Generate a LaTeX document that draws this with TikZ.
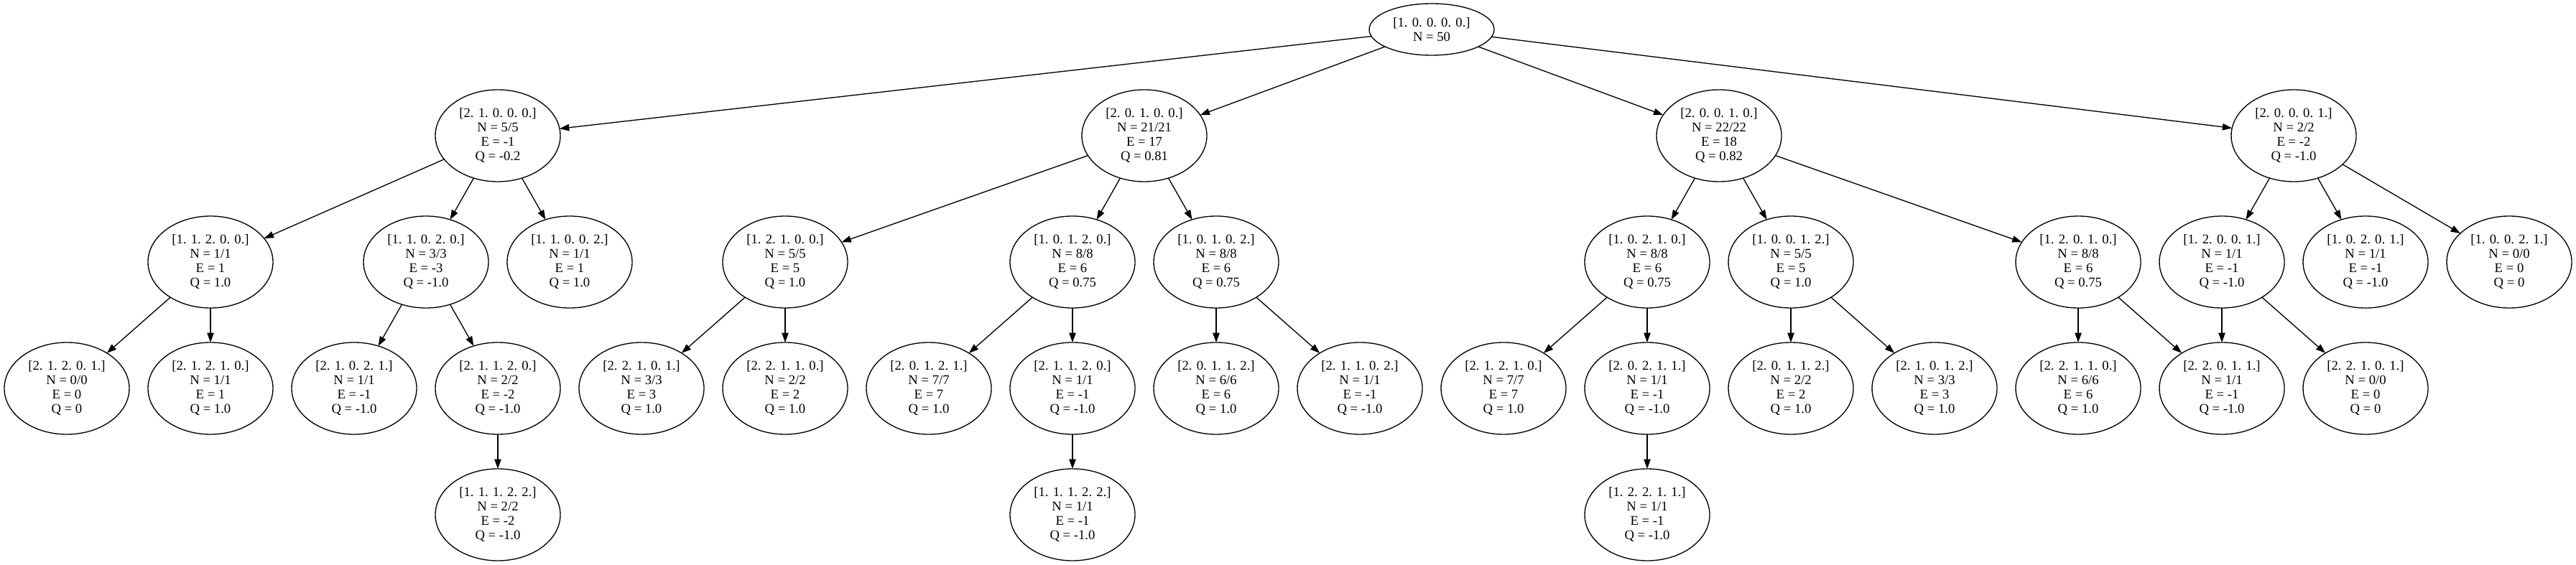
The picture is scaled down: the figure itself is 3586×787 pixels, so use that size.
\documentclass[tikz,border=0pt]{standalone}
\usepackage{fontspec}
\setmainfont{Liberation Serif}
\usetikzlibrary{shapes.geometric,arrows.meta}
\newcommand\mylab[4]{#1\\N = #2\\E = #3\\Q = #4}
\begin{document}
\begin{tikzpicture}[x=0.75pt,y=-0.75pt,
  st/.style={ellipse,draw,line width=1pt,minimum width=130.5pt,minimum height=96pt,inner sep=0pt,outer sep=0pt,align=center,font=\fontsize{14pt}{15pt}\selectfont},
  rootst/.style={st,minimum height=54pt},
  edge/.style={-{Triangle[length=10pt,width=7pt]},line width=1pt}]
\useasboundingbox (0,0) rectangle (3586,787);
% root
\node[rootst] (r) at (1993,41) {[1. 0. 0. 0. 0.]\\N = 50};
% level 1
\node[st] (a) at (693,189) {\mylab{[2. 1. 0. 0. 0.]}{5/5}{-1}{-0.2}};
\node[st] (b) at (1593,189) {\mylab{[2. 0. 1. 0. 0.]}{21/21}{17}{0.81}};
\node[st] (c) at (2393,189) {\mylab{[2. 0. 0. 1. 0.]}{22/22}{18}{0.82}};
\node[st] (d) at (3193,189) {\mylab{[2. 0. 0. 0. 1.]}{2/2}{-2}{-1.0}};
% level 2
\node[st] (a1) at (293,365) {\mylab{[1. 1. 2. 0. 0.]}{1/1}{1}{1.0}};
\node[st] (a2) at (593,365) {\mylab{[1. 1. 0. 2. 0.]}{3/3}{-3}{-1.0}};
\node[st] (a3) at (793,365) {\mylab{[1. 1. 0. 0. 2.]}{1/1}{1}{1.0}};
\node[st] (b1) at (1093,365) {\mylab{[1. 2. 1. 0. 0.]}{5/5}{5}{1.0}};
\node[st] (b2) at (1493,365) {\mylab{[1. 0. 1. 2. 0.]}{8/8}{6}{0.75}};
\node[st] (b3) at (1693,365) {\mylab{[1. 0. 1. 0. 2.]}{8/8}{6}{0.75}};
\node[st] (c1) at (2293,365) {\mylab{[1. 0. 2. 1. 0.]}{8/8}{6}{0.75}};
\node[st] (c2) at (2493,365) {\mylab{[1. 0. 0. 1. 2.]}{5/5}{5}{1.0}};
\node[st] (c3) at (2893,365) {\mylab{[1. 2. 0. 1. 0.]}{8/8}{6}{0.75}};
\node[st] (d1) at (3093,365) {\mylab{[1. 2. 0. 0. 1.]}{1/1}{-1}{-1.0}};
\node[st] (d2) at (3293,365) {\mylab{[1. 0. 2. 0. 1.]}{1/1}{-1}{-1.0}};
\node[st] (d3) at (3493,365) {\mylab{[1. 0. 0. 2. 1.]}{0/0}{0}{0}};
% level 3
\node[st] (e1) at (93,541) {\mylab{[2. 1. 2. 0. 1.]}{0/0}{0}{0}};
\node[st] (e2) at (293,541) {\mylab{[2. 1. 2. 1. 0.]}{1/1}{1}{1.0}};
\node[st] (e3) at (493,541) {\mylab{[2. 1. 0. 2. 1.]}{1/1}{-1}{-1.0}};
\node[st] (e4) at (693,541) {\mylab{[2. 1. 1. 2. 0.]}{2/2}{-2}{-1.0}};
\node[st] (e5) at (893,541) {\mylab{[2. 2. 1. 0. 1.]}{3/3}{3}{1.0}};
\node[st] (e6) at (1093,541) {\mylab{[2. 2. 1. 1. 0.]}{2/2}{2}{1.0}};
\node[st] (e7) at (1293,541) {\mylab{[2. 0. 1. 2. 1.]}{7/7}{7}{1.0}};
\node[st] (e8) at (1493,541) {\mylab{[2. 1. 1. 2. 0.]}{1/1}{-1}{-1.0}};
\node[st] (e9) at (1693,541) {\mylab{[2. 0. 1. 1. 2.]}{6/6}{6}{1.0}};
\node[st] (e10) at (1893,541) {\mylab{[2. 1. 1. 0. 2.]}{1/1}{-1}{-1.0}};
\node[st] (e11) at (2093,541) {\mylab{[2. 1. 2. 1. 0.]}{7/7}{7}{1.0}};
\node[st] (e12) at (2293,541) {\mylab{[2. 0. 2. 1. 1.]}{1/1}{-1}{-1.0}};
\node[st] (e13) at (2493,541) {\mylab{[2. 0. 1. 1. 2.]}{2/2}{2}{1.0}};
\node[st] (e14) at (2693,541) {\mylab{[2. 1. 0. 1. 2.]}{3/3}{3}{1.0}};
\node[st] (e15) at (2893,541) {\mylab{[2. 2. 1. 1. 0.]}{6/6}{6}{1.0}};
\node[st] (e16) at (3093,541) {\mylab{[2. 2. 0. 1. 1.]}{1/1}{-1}{-1.0}};
\node[st] (e17) at (3293,541) {\mylab{[2. 2. 1. 0. 1.]}{0/0}{0}{0}};
% level 4
\node[st] (f1) at (693,717) {\mylab{[1. 1. 1. 2. 2.]}{2/2}{-2}{-1.0}};
\node[st] (f2) at (1493,717) {\mylab{[1. 1. 1. 2. 2.]}{1/1}{-1}{-1.0}};
\node[st] (f3) at (2293,717) {\mylab{[1. 2. 2. 1. 1.]}{1/1}{-1}{-1.0}};
% edges
\foreach \s/\t in {r/a,r/b,r/c,r/d,
  a/a1,a/a2,a/a3,b/b1,b/b2,b/b3,c/c1,c/c2,c/c3,d/d1,d/d2,d/d3,
  a1/e1,a1/e2,a2/e3,a2/e4,b1/e5,b1/e6,b2/e7,b2/e8,b3/e9,b3/e10,
  c1/e11,c1/e12,c2/e13,c2/e14,c3/e15,c3/e16,d1/e16,d1/e17,
  e4/f1,e8/f2,e12/f3}
  \draw[edge] (\s) -- (\t);
\end{tikzpicture}
\end{document}
